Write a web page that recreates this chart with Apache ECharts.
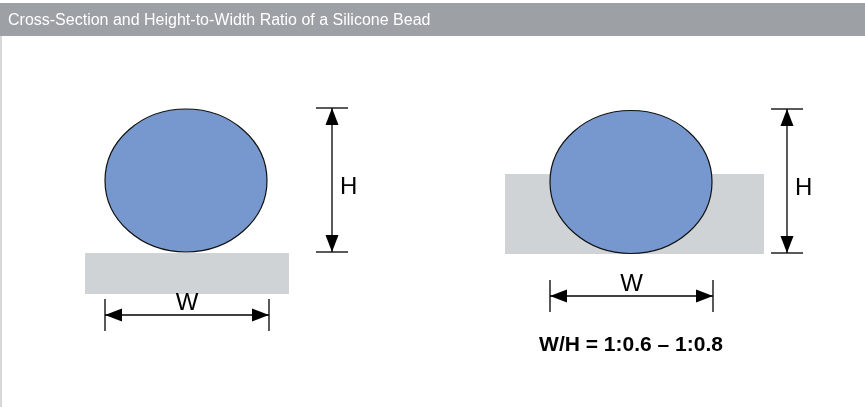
<!DOCTYPE html>
<html>
<head>
<meta charset="utf-8">
<script src="https://cdn.jsdelivr.net/npm/echarts@6/dist/echarts.min.js"></script>
<style>
  html, body { margin: 0; padding: 0; background: #fff; }
  #main { width: 865px; height: 407px; }
</style>
</head>
<body>
<div id="main"></div>
<script>
// diagram geometry in drawing units (x right, y down)
const beads = [
  // cx, cy, rx, ry
  [186, 180.5, 81, 71.5],
  [631, 182, 81, 71.5]
];
const substrates = [
  // x0, y0, x1, y1
  [85, 253, 289, 294],
  [505, 174, 764, 254]
];
const dims = [
  // x1, y1, x2, y2
  [105, 315, 269, 315],
  [332, 108, 332, 252],
  [550, 296, 713, 296],
  [787, 109, 787, 253]
];
const dimLabels = ["W", "H", "W", "H"];
const ratioText = "W/H = 1:0.6 \u2013 1:0.8";

const FONT = "'Liberation Sans', Arial, Helvetica, sans-serif";

var myChart = echarts.init(document.getElementById("main"));

function renderSubstrate(params, api) {
  const a = api.coord([api.value(0), api.value(1)]);
  const b = api.coord([api.value(2), api.value(3)]);
  return {
    type: "rect",
    shape: { x: a[0], y: a[1], width: b[0] - a[0], height: b[1] - a[1] },
    style: { fill: "#d0d3d6" }
  };
}

function renderBead(params, api) {
  const c = api.coord([api.value(0), api.value(1)]);
  const e = api.coord([api.value(0) + api.value(2), api.value(1) + api.value(3)]);
  return {
    type: "ellipse",
    shape: { cx: c[0], cy: c[1], rx: e[0] - c[0], ry: e[1] - c[1] },
    style: { fill: "#7798ce", stroke: "#111", lineWidth: 1.2 }
  };
}

function renderDim(params, api) {
  const p1 = api.coord([api.value(0), api.value(1)]);
  const p2 = api.coord([api.value(2), api.value(3)]);
  const len = Math.hypot(p2[0] - p1[0], p2[1] - p1[1]);
  const d = [(p2[0] - p1[0]) / len, (p2[1] - p1[1]) / len];
  const n = [-d[1], d[0]];
  const ext = 16, aL = 17, aW = 6.5;
  const lineStyle = { stroke: "#000", lineWidth: 1.3 };
  const children = [];
  children.push({ type: "line", shape: { x1: p1[0], y1: p1[1], x2: p2[0], y2: p2[1] }, style: lineStyle });
  [p1, p2].forEach(function (p) {
    children.push({
      type: "line",
      shape: { x1: p[0] - n[0] * ext, y1: p[1] - n[1] * ext, x2: p[0] + n[0] * ext, y2: p[1] + n[1] * ext },
      style: lineStyle
    });
  });
  [[p1, 1], [p2, -1]].forEach(function (t) {
    const p = t[0], s = t[1];
    const bx = p[0] + d[0] * aL * s, by = p[1] + d[1] * aL * s;
    children.push({
      type: "polygon",
      shape: { points: [[p[0], p[1]], [bx + n[0] * aW, by + n[1] * aW], [bx - n[0] * aW, by - n[1] * aW]] },
      style: { fill: "#000" }
    });
  });
  const mx = (p1[0] + p2[0]) / 2, my = (p1[1] + p2[1]) / 2;
  const horizontal = Math.abs(d[0]) > Math.abs(d[1]);
  children.push({
    type: "text",
    x: horizontal ? mx : mx + 8,
    y: horizontal ? my - 12 : my + 7,
    style: {
      text: dimLabels[params.dataIndex],
      fill: "#000",
      fontSize: 24,
      fontFamily: FONT,
      align: horizontal ? "center" : "left",
      verticalAlign: "middle"
    }
  });
  return { type: "group", children: children };
}

const option = {
  animation: false,
  title: {
    text: "Cross-Section and Height-to-Width Ratio of a Silicone Bead",
    left: 8,
    top: 13,
    padding: 0,
    textStyle: { color: "#fff", fontSize: 16, fontWeight: "normal", fontFamily: FONT }
  },
  graphic: [
    { type: "rect", z: -1, shape: { x: 0, y: 3, width: 865, height: 33 }, style: { fill: "#9da1a5" } },
    { type: "rect", shape: { x: 0, y: 36, width: 2, height: 371 }, style: { fill: "#d8d8d8" } },
    {
      type: "text",
      x: 631,
      y: 345,
      style: { text: ratioText, fill: "#000", font: "bold 21px " + FONT, align: "center", verticalAlign: "middle" }
    }
  ],
  grid: { left: 0, right: 0, top: 0, bottom: 0 },
  xAxis: { type: "value", min: 0, max: 865, show: false },
  yAxis: { type: "value", min: 0, max: 407, inverse: true, show: false },
  series: [
    { type: "custom", renderItem: renderSubstrate, data: substrates, silent: true },
    { type: "custom", renderItem: renderBead, data: beads, silent: true },
    { type: "custom", renderItem: renderDim, data: dims, silent: true }
  ]
};
myChart.setOption(option);
</script>
</body>
</html>
